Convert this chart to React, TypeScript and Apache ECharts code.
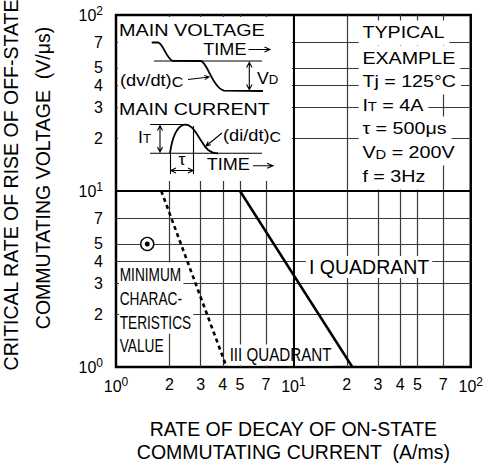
import React, { useEffect, useRef } from 'react';
import * as echarts from 'echarts';

const FONT = '"Liberation Sans", Arial, Helvetica, sans-serif';

// axis ticks (log decades subdivided at 2,3,4,5,7)
const xTickValues = [1, 2, 3, 4, 5, 7, 10, 20, 30, 40, 50, 70, 100];
const yTickValues = [1, 2, 3, 4, 5, 7, 10, 20, 30, 40, 50, 70, 100];
const decadeLineX = [10];
const decadeLineY = [10];

// I quadrant characteristic
const quadIX = [5, 21.5];
const quadIY = [10, 1];
// minimum characteristics value (III quadrant)
const minCharX = [1.8, 4.2];
const minCharY = [10, 1];
// typical example point
const pointX = [1.5];
const pointY = [5];

const typicalLines = ['TYPICAL', 'EXAMPLE', 'Tj = 125°C', 'I{s|T} = 4A', 'τ = 500μs', 'V{s|D} = 200V', 'f = 3Hz'];
const minimumLines = ['MINIMUM', 'CHARAC-', 'TERISTICS', 'VALUE'];

const xTitle = 'RATE OF DECAY OF ON-STATE\nCOMMUTATING CURRENT  (A/ms)';
const yTitle1 = 'CRITICAL RATE OF RISE OF OFF-STATE';
const yTitle2 = 'COMMUTATING VOLTAGE  (V/μs)';

const wavePath =
  'M151.7 42.5 L158 42.5 C163 43 166 58 172.5 60.8 L201 61 C207 62 213 88 224 90.7 L263 91 ' +
  'M170 153.3 C172 138 177 125 185 124.6 C192 124.3 196 133 202 142 C206 149 210 153 218 153.3';
const arrowPath =
  'M154 61 L262 61 M249.3 62.5 L249.3 89.5 M246.6 67.5 L249.3 62.5 L252 67.5 M246.6 84.5 L249.3 89.5 L252 84.5 ' +
  'M248.5 49.5 L270 49.5 M264.5 47 L270 49.5 L264.5 52 ' +
  'M188 79.5 L209 77 M204.3 75.4 L209 77 L204.8 79.6 ' +
  'M150 153.3 L262 153.3 M150 124.5 L185 124.5 ' +
  'M160 125.5 L160 152 M157.5 130.5 L160 125.5 L162.5 130.5 M157.5 147 L160 152 L162.5 147 ' +
  'M170.5 153.3 L170.5 174 M193.5 126 L193.5 174 M171 170.5 L193 170.5 M176 168 L171 170.5 L176 173 M188 168 L193 170.5 L188 173 ' +
  'M222 133 L206 146 M210.9 144.8 L206 146 L208.2 141.5 ' +
  'M253 165.7 L273 165.7 M267 163.2 L273 165.7 L267 168.2';

echarts.graphic.registerShape('insetWave', echarts.graphic.extendPath(wavePath, {}));
echarts.graphic.registerShape('insetArrows', echarts.graphic.extendPath(arrowPath, {}));

const tickLabel = (v: number) => {
  const p = Math.log10(v);
  if (Math.abs(p - Math.round(p)) < 1e-6) return `10{sup|${Math.round(p)}}`;
  return String(Math.round(v / Math.pow(10, Math.floor(p + 1e-9))));
};

const labelRich = {
  sup: { fontSize: 12, fontFamily: FONT, color: '#000', padding: [0, 0, 8, 0] },
};

function txt(x: number, y: number, text: string, o: any = {}) {
  const size = o.size ?? 16;
  const align = o.align ?? 'left';
  const style: any = {
    text,
    fill: '#000',
    fontSize: size,
    fontFamily: FONT,
    align,
    verticalAlign: 'middle',
    textAlign: align,
    textVerticalAlign: 'middle',
    rich: {
      s: { fontSize: o.subSize ?? 12, fontFamily: FONT, fill: '#000', padding: [3, 0, 0, 0] },
    },
  };
  if (o.bg) {
    style.backgroundColor = '#fff';
    style.padding = o.pad ?? [2, 3, 2, 3];
  }
  if (o.lineHeight) style.lineHeight = o.lineHeight;
  const el: any = { type: 'text', x, y, z: 1, scaleX: o.scaleX ?? 1, style };
  if (o.rotation) el.rotation = o.rotation;
  return el;
}

const typicalY = [33, 58.5, 82, 105.5, 129, 153, 177];
const minimumY = [274.5, 298.3, 321.7, 345];

export default function App() {
  const ref = useRef<HTMLDivElement>(null);

  useEffect(() => {
    document.body.style.margin = '0';
    const chart = echarts.init(ref.current!, null, { renderer: 'svg' });

    const axisCommon = (ticks: number[]) => ({
      type: 'log' as const,
      logBase: 10,
      min: 1,
      max: 100,
      axisLine: { show: false },
      axisTick: { show: false, customValues: ticks },
      splitLine: {
        show: true,
        showMinLine: false,
        showMaxLine: false,
        lineStyle: { color: '#3a3a3a', width: 1.2 },
      },
      axisLabel: {
        customValues: ticks,
        formatter: tickLabel,
        rich: labelRich,
        color: '#000',
        fontSize: 16,
        fontFamily: FONT,
      },
    });

    const graphics: any[] = [
      // white inset box (upper-left)
      { type: 'rect', z: 1, shape: { x: 118, y: 17, width: 174, height: 164 }, style: { fill: '#fff' } },
      { type: 'insetArrows', z: 1, style: { stroke: '#000', fill: 'none', lineWidth: 1.1 } },
      { type: 'insetWave', z: 1, style: { stroke: '#000', fill: 'none', lineWidth: 1.8 } },
      txt(119, 31, 'MAIN VOLTAGE', { scaleX: 1.24 }),
      txt(203.3, 50, 'TIME', { scaleX: 1.13 }),
      txt(120, 80, '(dv/dt){s|C}', { scaleX: 1.14, subSize: 14 }),
      txt(257, 79, 'V{s|D}', { scaleX: 1.1 }),
      txt(119, 110, 'MAIN CURRENT', { scaleX: 1.23 }),
      txt(138, 138, 'I{s|T}', { scaleX: 1.1 }),
      txt(182, 160, 'τ', { align: 'center', scaleX: 1.1 }),
      txt(223, 135, '(di/dt){s|C}', { scaleX: 1.14, subSize: 14 }),
      txt(206.7, 165, 'TIME', { scaleX: 1.13 }),
      // y axis title
      txt(11, 185, yTitle1, { size: 19.5, align: 'center', rotation: Math.PI / 2 }),
      txt(43, 178, yTitle2, { size: 19.5, align: 'center', rotation: Math.PI / 2 }),
      // annotations inside plot
      txt(306, 267, 'I QUADRANT', { size: 19.5, bg: true, pad: [1, 3, 1, 3] }),
      txt(228, 355, 'III QUADRANT', { size: 18.5, scaleX: 0.82, bg: true, pad: [1, 2, 1, 2] }),
    ];
    typicalLines.forEach((t, i) => {
      graphics.push(txt(358.7, typicalY[i], t, { scaleX: 1.23, bg: true, pad: [2, 4, 2, 3], lineHeight: 21 }));
    });
    minimumLines.forEach((t, i) => {
      graphics.push(txt(119, minimumY[i], t, { size: 19, scaleX: 0.72, bg: true, pad: [3, 3, 2, 1], lineHeight: 19 }));
    });

    const zip = (a: number[], b: number[]) => a.map((v, i) => [v, b[i]]);

    chart.setOption({
      animation: false,
      backgroundColor: '#fff',
      grid: {
        left: 116,
        right: 14,
        top: 15,
        bottom: 98,
        show: true,
        borderColor: '#000',
        borderWidth: 2.5,
        backgroundColor: 'transparent',
      },
      xAxis: {
        ...axisCommon(xTickValues),
        axisLabel: { ...axisCommon(xTickValues).axisLabel, margin: 9 },
        name: xTitle,
        nameLocation: 'middle',
        nameGap: 51,
        nameTextStyle: { fontSize: 19.5, lineHeight: 22.5, color: '#000', fontFamily: FONT },
      },
      yAxis: {
        ...axisCommon(yTickValues),
        axisLabel: { ...axisCommon(yTickValues).axisLabel, margin: 13 },
      },
      graphic: { elements: graphics },
      series: [
        {
          name: 'I QUADRANT',
          type: 'line',
          data: zip(quadIX, quadIY),
          symbol: 'none',
          lineStyle: { color: '#000', width: 2.5 },
          markLine: {
            silent: true,
            symbol: ['none', 'none'],
            label: { show: false },
            lineStyle: { color: '#000', width: 2, type: 'solid' },
            data: [
              ...decadeLineX.map((v) => ({ xAxis: v })),
              ...decadeLineY.map((v) => ({ yAxis: v })),
            ],
          },
        },
        {
          name: 'MINIMUM',
          type: 'line',
          data: zip(minCharX, minCharY),
          symbol: 'none',
          lineStyle: { color: '#000', width: 2.6, type: [4, 3.5] },
        },
        {
          name: 'TYPICAL',
          type: 'scatter',
          data: zip(pointX, pointY),
          symbol: 'circle',
          symbolSize: 13,
          itemStyle: { color: '#fff', borderColor: '#000', borderWidth: 1.4, opacity: 1 },
        },
        {
          name: 'TYPICAL_DOT',
          type: 'scatter',
          data: zip(pointX, pointY),
          symbol: 'circle',
          symbolSize: 5,
          itemStyle: { color: '#000', opacity: 1 },
        },
      ],
    });

    return () => chart.dispose();
  }, []);

  return <div ref={ref} style={{ width: 486, height: 468 }} />;
}
